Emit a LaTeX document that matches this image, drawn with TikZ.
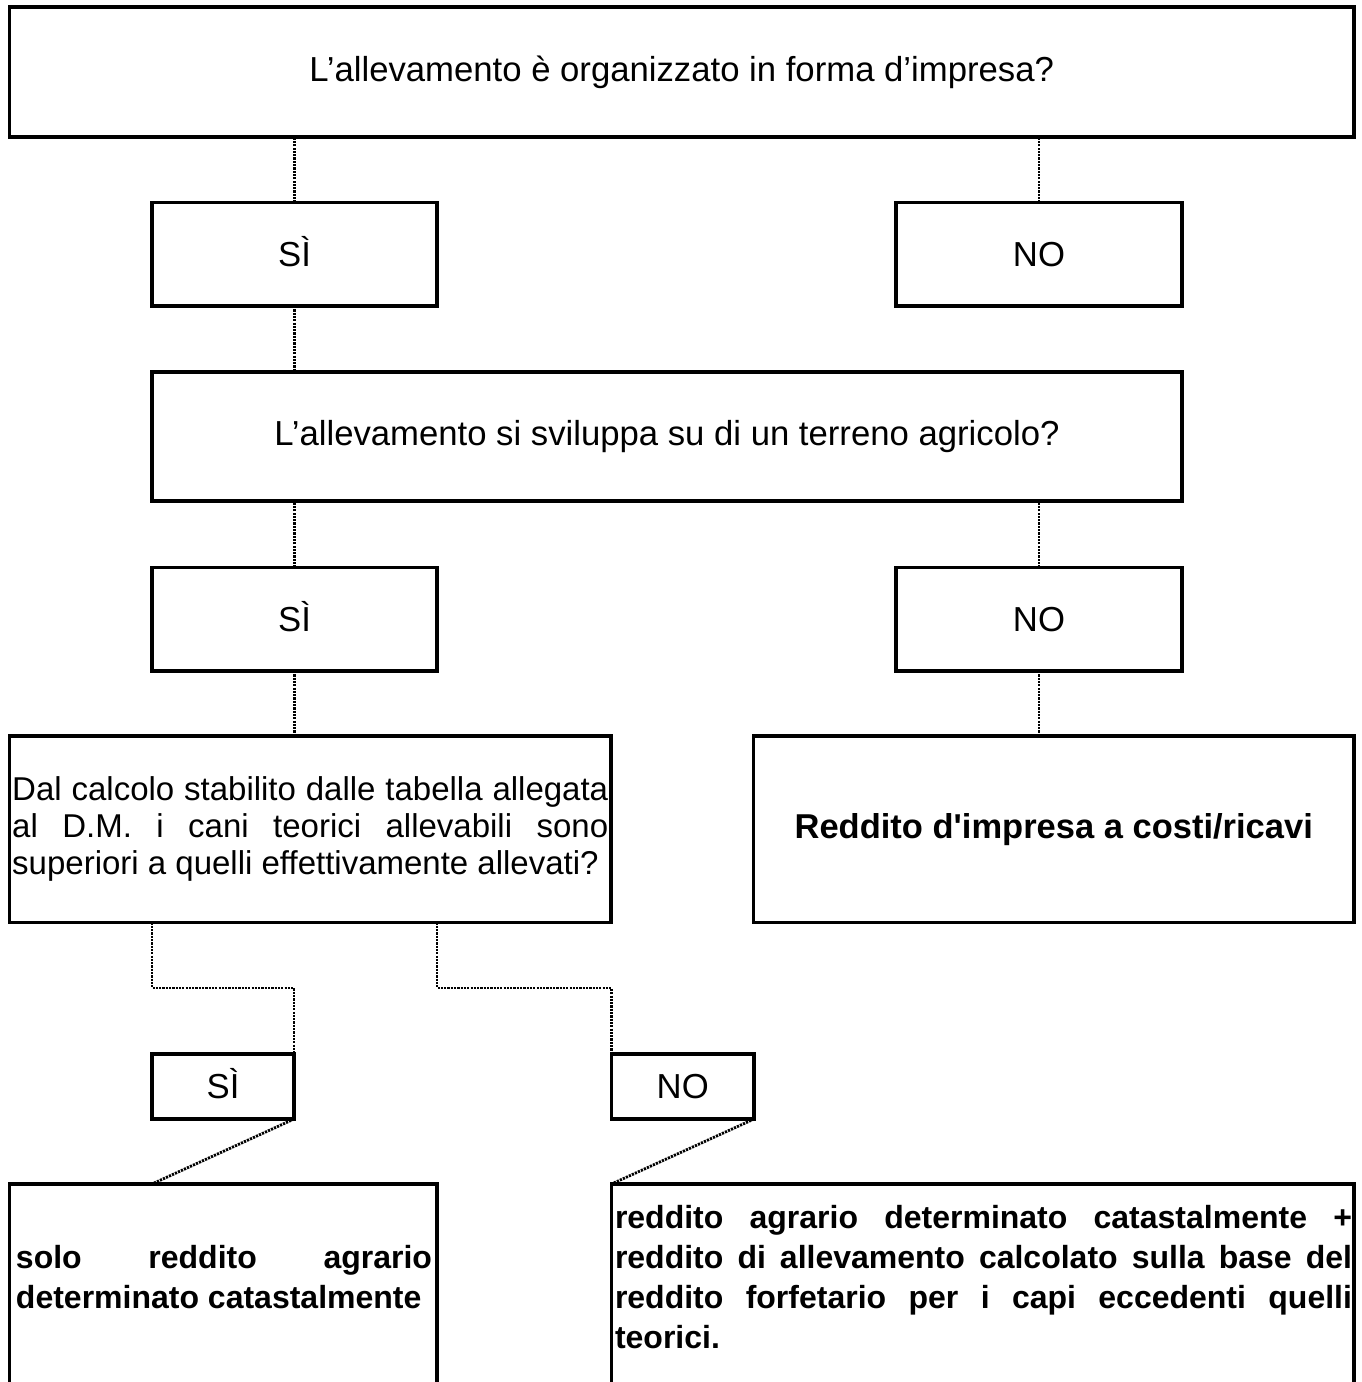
\documentclass[tikz,border=0pt]{standalone}
\usepackage{fontspec}
\setmainfont{Liberation Sans}[Ligatures=TeXOff]
\tolerance=10000
\hbadness=10000
\hyphenpenalty=10000
\exhyphenpenalty=10000
\begin{document}
\begin{tikzpicture}[x=1pt,y=-1pt,
  box/.style={draw, line width=3.2pt, rectangle, inner sep=0pt, outer sep=0pt, anchor=north west, font=\fontsize{34.7}{38}\selectfont},
  answer/.style={box, text height=24.5pt, text depth=0pt},
  link/.style={line width=2.8pt, dash pattern=on 2.2pt off 1.1pt},
  bodytext/.style={inner sep=0pt, outer sep=0pt, anchor=base west, align=justify, font=\fontsize{32}{40}\bfseries\selectfont}]
\useasboundingbox (0,0) rectangle (1362,1382);
\clip (0,0) rectangle (1362,1382);
% boxes
\node[box, minimum width=1344.5pt, minimum height=130pt] (q1) at (9.5,7) {L’allevamento è organizzato in forma d’impresa?};
\node[answer, minimum width=285pt, minimum height=103.5pt] (s1) at (152,202.5) {SÌ};
\node[answer, minimum width=286pt, minimum height=103.5pt] (n1) at (896,202.5) {NO};
\node[box, minimum width=1030pt, minimum height=129pt] (q2) at (152,372) {L’allevamento si sviluppa su di un terreno agricolo?};
\node[answer, minimum width=285pt, minimum height=103.5pt] (s2) at (152,567.5) {SÌ};
\node[answer, minimum width=286pt, minimum height=103.5pt] (n2) at (896,567.5) {NO};
\node[box, minimum width=601.5pt, minimum height=186.5pt, text width=596pt, align=justify, font=\fontsize{33}{37}\selectfont] (dal) at (9.5,736) {Dal calcolo stabilito dalle tabella allegata al D.M. i cani teorici allevabili sono superiori a quelli effettivamente allevati?};
\node[box, minimum width=600.5pt, minimum height=186.5pt, font=\fontsize{34.5}{38}\bfseries\selectfont] (red) at (753.5,736) {Reddito d'impresa a costi/ricavi};
\node[answer, minimum width=142pt, minimum height=65pt] (s3) at (152,1054) {SÌ};
\node[answer, minimum width=142.5pt, minimum height=65pt] (n3) at (611.5,1054) {NO};
\node[box, minimum width=427.5pt, minimum height=260pt] (bl) at (9.5,1184) {};
\node[box, minimum width=742.5pt, minimum height=260pt] (br) at (611.5,1184) {};
% texts of bottom boxes
\node[bodytext, text width=416pt] (blt) at (16,1268) {solo reddito agrario determinato catastalmente};
\node[bodytext, text width=737pt] (brt) at (615,1228) {reddito agrario determinato catastalmente + reddito di allevamento calcolato sulla base del reddito forfetario per i capi eccedenti quelli teorici.};
% connectors
\coordinate (j) at (0,988);
\draw[link] (s1.north) -- (s1.north |- q1.south);
\draw[link] (n1.north) -- (n1.north |- q1.south);
\draw[link] (s1.south) -- (s1.south |- q2.north);
\draw[link] (s2.north) -- (s2.north |- q2.south);
\draw[link] (n2.north) -- (n2.north |- q2.south);
\draw[link] (s2.south) -- (s2.south |- dal.north);
\draw[link] (n2.south) -- (n2.south |- red.north);
\draw[link] (s3.west |- dal.south) -- (s3.west |- j) -- (s3.north east |- j) -- (s3.north east);
\draw[link] (bl.east |- dal.south) -- (bl.east |- j) -- (n3.north west |- j) -- (n3.north west);
\draw[link] (s3.south east) -- (s3.south west |- bl.north);
\draw[link] (n3.south east) -- (br.north west);
\end{tikzpicture}
\end{document}
